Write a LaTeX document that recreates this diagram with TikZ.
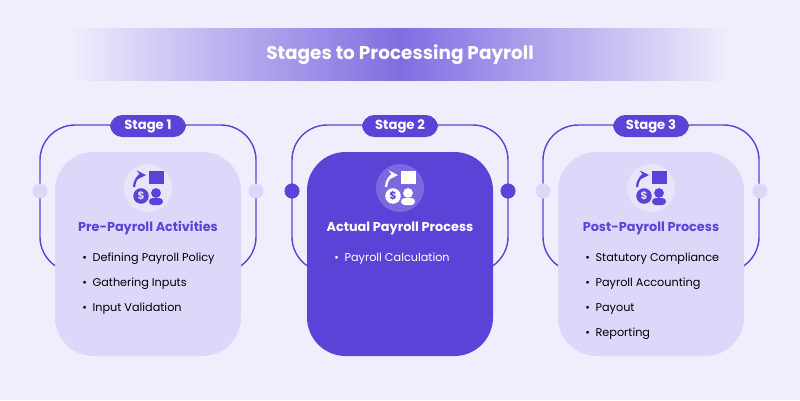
\documentclass[tikz,border=0pt]{standalone}
\usepackage{fontspec}
\setmainfont{Poppins}
\usetikzlibrary{positioning}
\definecolor{bgc}{HTML}{F0EEFC}
\definecolor{cardc}{HTML}{DDD8FA}
\definecolor{purp}{HTML}{5A43D7}
\definecolor{dotc}{HTML}{DCD7F8}
\tikzset{
  frame/.style={draw=purp, line width=0.8pt, rounded corners=20pt},
  card/.style={rounded corners=22pt},
  pill/.style={fill=purp, rounded corners=7pt, text=white, font=\fontsize{7.5}{9}\selectfont\bfseries, minimum width=1.52cm, minimum height=0.44cm, inner sep=0pt},
  ctitle/.style={font=\fontsize{7.3}{9}\selectfont\bfseries},
  item/.style={font=\fontsize{6.4}{8}\selectfont, anchor=west, inner sep=0pt},
  icon/.style={circle, minimum size=0.96cm, inner sep=0pt}
}
% one stage: centre x, stage no, icon fill, fg colour, card fill, title
\newcommand{\stagebox}[6]{
  \draw[frame] ({#1-108},-125) rectangle ({#1+108},-272);
  \fill[#5, card] ({#1-93},-152) rectangle ({#1+93},-356);
  \node[pill] (s#2) at (#1,-126) {Stage #2};
  \node[icon, fill=#3] (ic#2) at (#1,-188) {};
  \node[circle, fill=#4, text=#5, inner sep=0.8pt, font=\fontsize{6}{6}\selectfont\bfseries] (d#2) at ({#1-7},-196) {\$};
  \fill[#4] ({#1+1},-184) rectangle ({#1+16},-171);
  \fill[#4] ({#1+8},-193) circle (2.8pt);
  \fill[#4, rounded corners=2pt] ({#1+1},-205) rectangle ({#1+15},-198);
  \draw[#4, line width=1.3pt, ->, >=stealth] ({#1-14},-187) to[bend left=45] ({#1-2},-175);
  \node[ctitle, text=#4] (t#2) at (#1,-228) {#6};
}
\begin{document}
\begin{tikzpicture}[x=0.02cm, y=0.02cm]
\fill[bgc] (0,0) rectangle (800,-400);
\useasboundingbox (0,0) rectangle (800,-400);
% title band
\shade[left color=bgc, right color=purp!75!bgc] (70,-28) rectangle (400,-80);
\shade[left color=purp!75!bgc, right color=bgc] (400,-28) rectangle (730,-80);
\node[font=\fontsize{10.5}{13}\selectfont\bfseries, text=white] (head) at (400,-55) {Stages to Processing Payroll};
% stages
\stagebox{148}{1}{bgc!60!cardc}{purp}{cardc}{Pre-Payroll Activities}
\stagebox{400}{2}{purp!80!white}{white}{purp}{Actual Payroll Process}
\stagebox{651}{3}{bgc!60!cardc}{purp}{cardc}{Post-Payroll Process}
% side dots
\foreach \x/\c in {40/dotc,256/dotc,292/purp,508/purp,543/dotc,760/dotc}
  \fill[\c] (\x,-191) circle (4.3pt);
% items
\node[item] (a1) at (82,-259) {•\enspace Defining Payroll Policy};
\node[item] (a2) at (82,-284) {•\enspace Gathering Inputs};
\node[item] (a3) at (82,-309) {•\enspace Input Validation};
\node[item, text=white] (b1) at (334,-259) {•\enspace Payroll Calculation};
\node[item] (c1) at (585,-259) {•\enspace Statutory Compliance};
\node[item] (c2) at (585,-284) {•\enspace Payroll Accounting};
\node[item] (c3) at (585,-309) {•\enspace Payout};
\node[item] (c4) at (585,-334) {•\enspace Reporting};
\end{tikzpicture}
\end{document}
